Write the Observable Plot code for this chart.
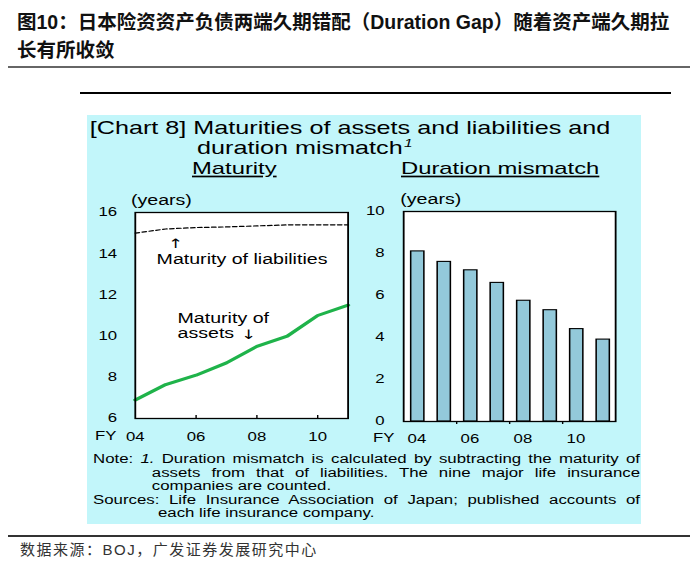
<!DOCTYPE html>
<html><head><meta charset="utf-8">
<script src="https://cdn.jsdelivr.net/npm/d3@7"></script>
<script src="https://cdn.jsdelivr.net/npm/@observablehq/plot@0.6"></script>
<style>
body{margin:0;background:#fff;width:700px;height:567px;position:relative;overflow:hidden;font-family:"Liberation Sans",Arial,sans-serif;color:#000;}
.abs{position:absolute;}
#title{left:17px;top:8px;font-weight:bold;font-size:19.5px;line-height:28px;font-family:"Liberation Sans","Noto Sans CJK SC",sans-serif;color:#111;white-space:nowrap;}
#footer{left:20px;top:541px;font-size:15px;line-height:18px;letter-spacing:1.5px;font-family:"Liberation Sans","Noto Sans CJK SC",sans-serif;color:#333;white-space:nowrap;}
#inner{left:87px;top:115px;width:395.7px;height:409px;transform:scaleX(1.4);transform-origin:0 0;}
#notes{left:4.3px;top:338.25px;width:390.7px;font-size:12px;line-height:13.5px;}
#notes div{text-align:justify;text-align-last:justify;white-space:normal;}
</style></head>
<body>
<div id="title" class="abs">图10：日本险资资产负债两端久期错配（Duration Gap）随着资产端久期拉<br>长有所收敛</div>
<div class="abs" style="left:8px;top:66px;width:682px;height:2px;background:#666"></div>
<div class="abs" style="left:80px;top:92px;width:591px;height:2px;background:#000"></div>
<div class="abs" style="left:87px;top:115px;width:554px;height:409px;background:#c2f6fa;"></div>
<div id="inner" class="abs">
  <svg class="abs" style="left:0;top:0;overflow:visible" width="395.7" height="409" font-family="Liberation Sans, Arial, sans-serif" fill="#000">
    <text x="2" y="19" font-size="18">[Chart 8] Maturities of assets and liabilities and</text>
    <text x="78.6" y="39" font-size="18">duration mismatch<tspan font-size="11" font-style="italic" dx="1" dy="-7">1</tspan></text>
    <text x="75" y="59" font-size="17" text-decoration="underline">Maturity</text>
    <text x="224.3" y="59" font-size="17" text-decoration="underline">Duration mismatch</text>
    <text x="31.4" y="90" font-size="14">(years)</text>
    <text x="223.8" y="89" font-size="14">(years)</text>
    <text x="5.7" y="325" font-size="12">FY</text>
    <text x="204.3" y="327" font-size="12">FY</text>
  </svg>
  <div id="leftChart" class="abs" style="left:0;top:75px"></div>
  <div id="rightChart" class="abs" style="left:195px;top:75px"></div>
  <div id="notes" class="abs">
    <div>Note: <i>1.</i> Duration mismatch is calculated by subtracting the maturity of</div>
    <div style="padding-left:42px">assets from that of liabilities. The nine major life insurance</div>
    <div style="padding-left:42px;text-align-last:left">companies are counted.</div>
    <div>Sources: Life Insurance Association of Japan; published accounts of</div>
    <div style="padding-left:46.4px;text-align-last:left">each life insurance company.</div>
  </div>
</div>
<div class="abs" style="left:8px;top:535px;width:682px;height:1.5px;background:#333"></div>
<div id="footer" class="abs">数据来源：BOJ，广发证券发展研究中心</div>
<script>
const years = [2004, 2005, 2006, 2007, 2008, 2009, 2010, 2011];
const assetMaturity = [6.9, 7.65, 8.1, 8.7, 9.5, 10.0, 11.0, 11.5];
const liabilityMaturity = [15.0, 15.2, 15.27, 15.3, 15.35, 15.4, 15.4, 15.4];
const durationGap = [8.1, 7.6, 7.2, 6.6, 5.75, 5.3, 4.4, 3.9];
const tickYears = [2004, 2006, 2008, 2010];
const tickLabels = ["04", "06", "08", "10"];
const maturityTicks = [6, 8, 10, 12, 14, 16];
const gapTicks = [0, 2, 4, 6, 8, 10];

const fmt = new Map(tickYears.map((y, i) => [y, tickLabels[i]]));
const assets = years.map((y, i) => ({year: y, value: assetMaturity[i]}));
const liabs = years.map((y, i) => ({year: y, value: liabilityMaturity[i]}));
const gaps = years.map((y, i) => ({year: y, value: durationGap[i]}));
const style = {background: "transparent", fontFamily: "Liberation Sans, Arial, sans-serif", fontSize: "12px", color: "#000", overflow: "visible"};

const left = Plot.plot({
  width: 195, height: 250,
  marginLeft: 34, marginRight: 9, marginTop: 22, marginBottom: 22,
  style,
  x: {domain: [2004, 2011]},
  y: {domain: [6, 16]},
  marks: [
    Plot.frame({fill: "white"}),
    Plot.axisY({ticks: maturityTicks, tickSize: 0, tickPadding: 13, label: null}),
    Plot.axisX({ticks: tickYears.slice(1), tickSize: 3, dy: -3, tickFormat: () => "", label: null}),
    Plot.axisX({ticks: tickYears, tickSize: 0, tickPadding: 14, tickFormat: d => fmt.get(d), label: null}),
    Plot.lineY(liabs, {x: "year", y: "value", stroke: "black", strokeWidth: 1.2, strokeDasharray: "3,2"}),
    Plot.lineY(assets, {x: "year", y: "value", stroke: "#1fb34a", strokeWidth: 3}),
    Plot.text(["↑"], {text: d => d, x: 2005.33, y: 14.3, textAnchor: "middle", lineAnchor: "bottom", fontSize: 13, fontFamily: "DejaVu Sans"}),
    Plot.text(["Maturity of liabilities"], {text: d => d, x: 2004.70, y: 13.48, textAnchor: "start", lineAnchor: "bottom", fontSize: 14}),
    Plot.text(["Maturity of\nassets"], {text: d => d, x: 2005.39, y: 9.93, textAnchor: "start", lineAnchor: "bottom", fontSize: 14, lineHeight: 1.07}),
    Plot.text(["↓"], {text: d => d, x: 2007.73, y: 9.85, textAnchor: "middle", lineAnchor: "bottom", fontSize: 13, fontFamily: "DejaVu Sans"}),
    Plot.frame({stroke: "black", strokeWidth: 1.3})
  ]
});
document.getElementById("leftChart").appendChild(left);

const right = Plot.plot({
  width: 200, height: 250,
  marginLeft: 30.7, marginRight: 17.9, marginTop: 21, marginBottom: 19,
  style,
  x: {domain: [2004, 2012]},
  y: {domain: [0, 10]},
  marks: [
    Plot.frame({fill: "white"}),
    Plot.rectY(gaps, {x: "year", interval: 1, y: "value", fill: "#93c9da", stroke: "black", strokeWidth: 1.1, insetLeft: 5.5, insetRight: 4}),
    Plot.axisY({ticks: gapTicks, tickSize: 0, tickPadding: 13.6, label: null}),
    Plot.axisX({ticks: tickYears.slice(1), tickSize: 3, tickFormat: () => "", label: null}),
    Plot.axisX({ticks: tickYears.map(y => y + 0.5), tickSize: 0, tickPadding: 13, tickFormat: d => fmt.get(d - 0.5), label: null}),
    Plot.frame({stroke: "black", strokeWidth: 1.3})
  ]
});
document.getElementById("rightChart").appendChild(right);
</script>
</body></html>
